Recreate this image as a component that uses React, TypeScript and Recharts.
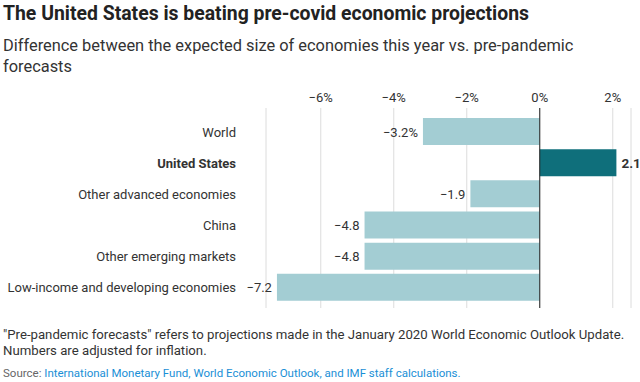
import React from 'react';
import { BarChart, Bar, XAxis, YAxis, CartesianGrid, ReferenceLine, LabelList, Cell } from 'recharts';

const regions = ['World', 'United States', 'Other advanced economies', 'China', 'Other emerging markets', 'Low-income and developing economies'];
const gaps = [-3.2, 2.1, -1.9, -4.8, -4.8, -7.2];
const ticks = [-6, -4, -2, 0, 2];

const data = regions.map((region, i) => ({ region, gap: gaps[i] }));

const FONT = 'Roboto, sans-serif';
const LIGHT = '#a3cdd3';
const DARK = '#0f6f7b';
const TEXT = '#333';

const minus = (v: number) => (v < 0 ? '\u2212' + Math.abs(v) : String(v));

const RegionTick = (props: any) => {
  const { x, y, payload } = props;
  const bold = payload.value === 'United States';
  return (
    <text x={x} y={y} dy={5} textAnchor="end" fontSize={13} fontWeight={bold ? 700 : 400} fill={TEXT} fontFamily={FONT}>
      {payload.value}
    </text>
  );
};

const ValueLabel = (props: any) => {
  const { x, y, width, height, value, index } = props;
  const left = Math.min(x, x + width);
  const right = Math.max(x, x + width);
  const cy = y + height / 2 + 5;
  const text = minus(value) + (index === 0 ? '%' : '');
  if (value >= 0) {
    return (
      <text x={right + 5} y={cy} fontSize={13.5} fontWeight={700} fill={TEXT} fontFamily={FONT}>
        {text}
      </text>
    );
  }
  return (
    <text x={left - 5} y={cy} textAnchor="end" fontSize={13} fill={TEXT} fontFamily={FONT}>
      {text}
    </text>
  );
};

export default function App() {
  return (
    <div style={{ position: 'absolute', left: 0, top: 0, width: 640, height: 382, background: '#fff', fontFamily: FONT, color: TEXT, overflow: 'hidden' }}>
      <div style={{ position: 'absolute', left: 3, top: 3, fontSize: 19.4, lineHeight: '22px', fontWeight: 700, color: '#222', whiteSpace: 'nowrap' }}>
        The United States is beating pre-covid economic projections
      </div>
      <div style={{ position: 'absolute', left: 3, top: 35, width: 600, fontSize: 16.4, lineHeight: '21px', color: '#333' }}>
        Difference between the expected size of economies this year vs. pre-pandemic forecasts
      </div>
      <div style={{ position: 'absolute', left: 0, top: 85 }}>
        <BarChart width={640} height={225} data={data} layout="vertical" margin={{ top: 0, right: 9, bottom: 2, left: 0 }}>
          <CartesianGrid horizontal={false} stroke="#dcdcdc" />
          <XAxis
            type="number"
            orientation="top"
            height={23}
            domain={[-7.5, 2.5]}
            ticks={ticks}
            tickFormatter={(v: number) => minus(v) + '%'}
            axisLine={false}
            tickLine={false}
            tick={{ fontSize: 13, fill: TEXT, fontFamily: FONT }}
            tickMargin={0}
          />
          <YAxis
            type="category"
            dataKey="region"
            width={266}
            axisLine={false}
            tickLine={false}
            tickSize={0}
            tickMargin={30}
            tick={<RegionTick />}
            padding={{ top: 8, bottom: 5 }}
            interval={0}
          />
          <ReferenceLine x={0} stroke="#222" strokeWidth={1} />
          <Bar dataKey="gap" barSize={27} isAnimationActive={false}>
            {data.map((d) => (
              <Cell key={d.region} fill={d.gap > 0 ? DARK : LIGHT} />
            ))}
            <LabelList dataKey="gap" content={<ValueLabel />} />
          </Bar>
        </BarChart>
      </div>
      <div style={{ position: 'absolute', left: 3, top: 327, width: 636, fontSize: 13.2, lineHeight: '16px', color: '#333' }}>
        "Pre-pandemic forecasts" refers to projections made in the January 2020 World Economic Outlook Update. Numbers are adjusted for inflation.
      </div>
      <div style={{ position: 'absolute', left: 3, top: 366, fontSize: 11.5, lineHeight: '14px', color: '#666', whiteSpace: 'nowrap' }}>
        Source: <span style={{ color: '#1a8fd6' }}>International Monetary Fund, World Economic Outlook, and IMF staff calculations.</span>
      </div>
    </div>
  );
}
